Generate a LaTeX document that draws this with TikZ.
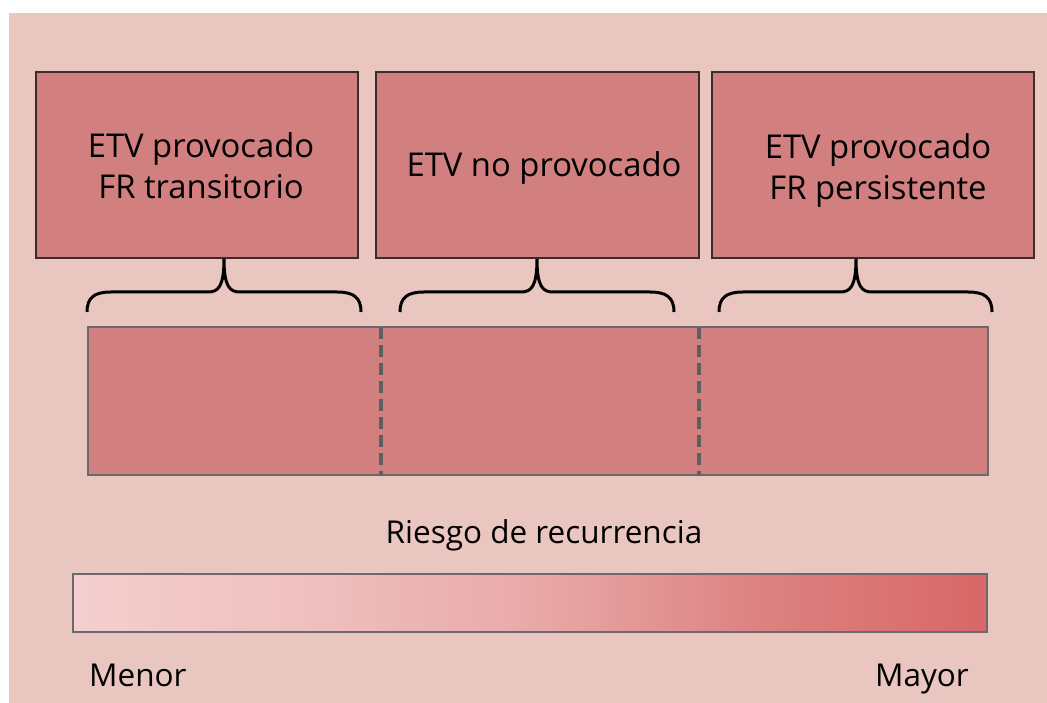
\documentclass[tikz,border=0pt]{standalone}
\usepackage{fontspec}
\setmainfont{Open Sans}
\definecolor{bgpink}{HTML}{EAC6C1}
\definecolor{boxfill}{HTML}{D27F7F}
\definecolor{boxline}{HTML}{3D2B2B}
\definecolor{barline}{HTML}{6A6A6A}
\definecolor{dashgray}{HTML}{5F5F5F}
\definecolor{gradlowc}{HTML}{F4CFCF}
\definecolor{gradq1}{HTML}{EFC0C0}
\definecolor{gradmid}{HTML}{E9A9A9}
\definecolor{gradq3}{HTML}{DD8282}
\definecolor{gradhighc}{HTML}{D86767}
\pgfdeclarehorizontalshading{riskshade}{100bp}{%
  color(0bp)=(gradlowc); color(25bp)=(gradlowc);
  color(37.5bp)=(gradq1); color(50bp)=(gradmid);
  color(62.5bp)=(gradq3); color(75bp)=(gradhighc); color(100bp)=(gradhighc)}
\begin{document}
\begin{tikzpicture}[x=1pt,y=-1pt,
  catbox/.style={draw=boxline,line width=1.5pt,fill=boxfill,rectangle,
    minimum width=322pt,minimum height=186pt,inner sep=0pt},
  cattext/.style={align=center,inner sep=0pt,
    font=\fontsize{32.8}{41}\selectfont},
  bracepath/.style={draw=black,line width=3pt,line cap=butt},
  dashdiv/.style={dashgray,line width=3.5pt,dash pattern=on 12pt off 6pt},
  lbl/.style={inner sep=0pt,font=\fontsize{31.5}{38}\selectfont}]
\useasboundingbox (0,0) rectangle (1047,703);
\fill[white] (0,0) rectangle (1047,703);
\fill[bgpink] (9,13) rectangle (1047,703);
% category boxes
\node[catbox] (b1) at (197,165) {};
\node[catbox,minimum width=323pt] (b2) at (537.5,165) {};
\node[catbox] (b3) at (873,165) {};
\node[cattext] (t1) at (201,166) {ETV provocado\\FR transitorio};
\node[cattext] (t2) at (544,167.5) {ETV no provocado};
\node[cattext] (t3) at (878,170) {ETV provocado\\FR persistente};
% risk bar
\node[draw=barline,line width=1.5pt,fill=boxfill,rectangle,minimum width=900pt,
  minimum height=148pt,inner sep=0pt] (bar) at (538,401) {};
\coordinate (d1t) at (381,327); \coordinate (d1b) at (381,475);
\coordinate (d2t) at (699,327); \coordinate (d2b) at (699,475);
\draw[dashdiv] (d1t) -- (d1b);
\draw[dashdiv] (d2t) -- (d2b);
% braces
\foreach \xa/\xt/\xb in {87/224/361, 400/537/674, 719/856/992}{
  \draw[bracepath] (\xa,312) .. controls (\xa,297) and (\xa+8,292) .. (\xa+24,292)
    -- (\xt-16,292) .. controls (\xt-6,292) and (\xt,287) .. (\xt,259)
    .. controls (\xt,287) and (\xt+6,292) .. (\xt+16,292)
    -- (\xb-24,292) .. controls (\xb-8,292) and (\xb,297) .. (\xb,312);
}
% label
\node[lbl,anchor=base] (risk) at (544,543) {Riesgo de recurrencia};
% gradient bar
\node[draw=barline,line width=1.5pt,shading=riskshade,
  rectangle,minimum width=914pt,minimum height=58pt,inner sep=0pt] (grad) at (530,603) {};
\node[lbl,anchor=base west] (menor) at (89,686) {Menor};
\node[lbl,anchor=base east] (mayor) at (969,686) {Mayor};
\end{tikzpicture}
\end{document}
